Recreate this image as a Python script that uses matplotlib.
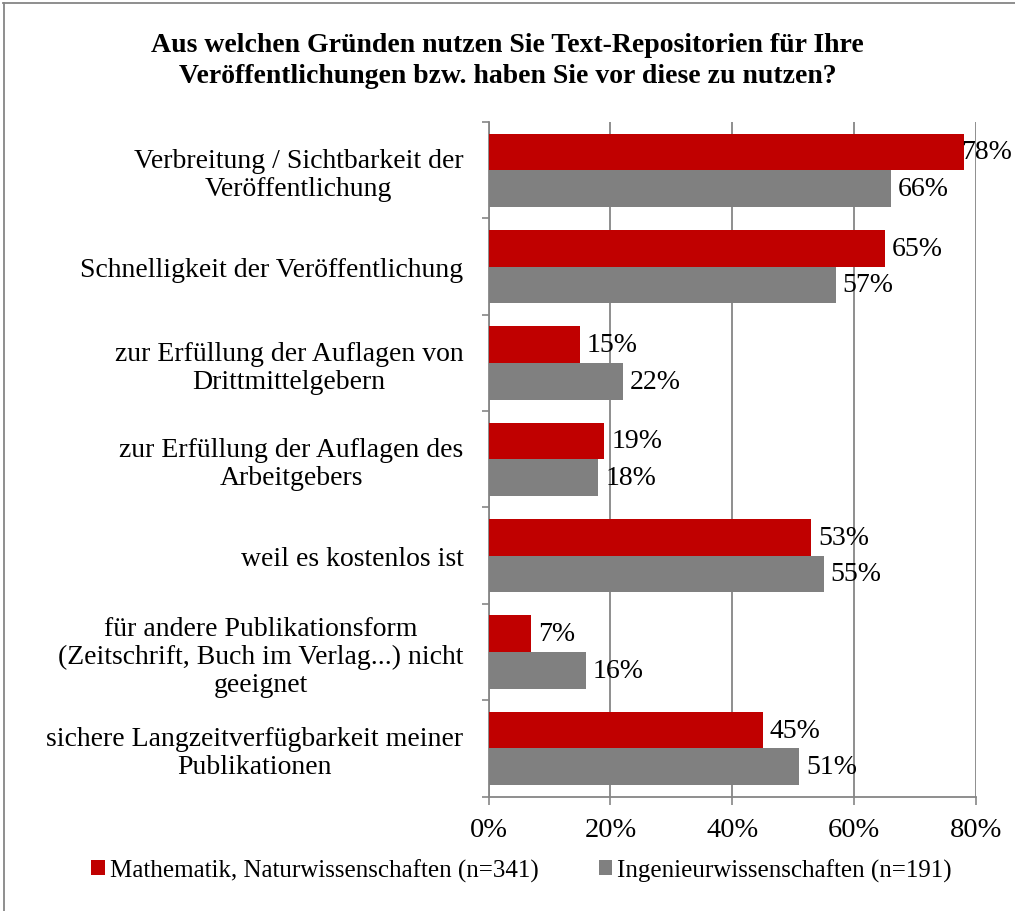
import matplotlib.pyplot as plt
import numpy as np
from matplotlib.lines import Line2D

plt.rcParams['font.family'] = ['Liberation Serif', 'DejaVu Serif']

categories = [
    'Verbreitung / Sichtbarkeit der\nVeröffentlichung',
    'Schnelligkeit der Veröffentlichung',
    'zur Erfüllung der Auflagen von\nDrittmittelgebern',
    'zur Erfüllung der Auflagen des\nArbeitgebers',
    'weil es kostenlos ist',
    'für andere Publikationsform\n(Zeitschrift, Buch im Verlag...) nicht\ngeeignet',
    'sichere Langzeitverfügbarkeit meiner\nPublikationen',
]
mathe = [78, 65, 15, 19, 53, 7, 45]
ingenieur = [66, 57, 22, 18, 55, 16, 51]
series_names = ['Mathematik, Naturwissenschaften (n=341)',
                'Ingenieurwissenschaften (n=191)']
xticks = [0, 20, 40, 60, 80]

red = '#C00000'
gray = '#808080'
gridc = '#868686'

fig = plt.figure(figsize=(10.15, 9.12), dpi=100)
ax = fig.add_axes([488.5 / 1015, 1 - 797.5 / 912, (976 - 488.5) / 1015, (797.5 - 123) / 912])

y = np.arange(len(categories))
h = 0.38
b1 = ax.barh(y - h / 2, mathe, height=h, color=red, label=series_names[0], zorder=3)
b2 = ax.barh(y + h / 2, ingenieur, height=h, color=gray, label=series_names[1], zorder=3)

labels = []
for bars, vals in ((b1, mathe), (b2, ingenieur)):
    for bar, v in zip(bars, vals):
        a = ax.annotate(f'{v}%', (v, bar.get_y() + bar.get_height() / 2),
                        xytext=(5, 0), textcoords='offset points',
                        va='center', ha='left', fontsize=20, zorder=4,
                        annotation_clip=False)
        labels.append(a)

ax.set_xlim(0, 80)
ax.set_ylim(len(categories) - 0.5, -0.5)
ax.set_xticks(xticks)
ax.set_xticklabels([f'{t}%' for t in xticks], fontsize=20.5)
ax.set_yticks(y)
ax.set_yticklabels(categories, fontsize=20, linespacing=1.15)
for lbl in ax.get_yticklabels():
    lbl.set_multialignment('center')
ax.set_yticks(np.arange(len(categories) + 1) - 0.5, minor=True)
ax.tick_params(axis='y', which='major', length=0, pad=18)
ax.tick_params(axis='y', which='minor', length=5, width=1.2, color=gridc, direction='out')
ax.tick_params(axis='x', length=6, width=1.2, color=gridc, direction='out', pad=9)

ax.grid(axis='x', color=gridc, linewidth=1.3, zorder=0)
for s in ('top', 'right'):
    ax.spines[s].set_visible(False)
for s in ('left', 'bottom'):
    ax.spines[s].set_color(gridc)
    ax.spines[s].set_linewidth(1.3)

fig.text(0.5, 1 - 61 / 912,
         'Aus welchen Gründen nutzen Sie Text-Repositorien für Ihre\n'
         'Veröffentlichungen bzw. haben Sie vor diese zu nutzen?',
         ha='center', va='center', fontsize=20, fontweight='bold', linespacing=1.3)

fig.legend(handles=[b1, b2], loc='center left', bbox_to_anchor=(91 / 1015, 1 - 871 / 912),
           ncol=2, frameon=False, fontsize=18, handlelength=0.55, handleheight=0.55,
           handletextpad=0.2, columnspacing=2.4, borderpad=0, borderaxespad=0)

fig.add_artist(Line2D([3 / 1015, 1], [1 - 3.5 / 912, 1 - 3.5 / 912],
                      transform=fig.transFigure, color=gridc, linewidth=1.3))
fig.add_artist(Line2D([3.5 / 1015, 3.5 / 1015], [0, 1 - 3.5 / 912],
                      transform=fig.transFigure, color=gridc, linewidth=1.3))

# keep labels inside the picture (78% sits at the right edge)
fig.canvas.draw()
r = fig.canvas.get_renderer()
for a in labels:
    ext = a.get_window_extent(r)
    over = ext.x1 - 1012
    if over > 0:
        dx, dy = a.xyann
        a.xyann = (dx - over * 72 / fig.dpi, dy)

fig.savefig('out.png', dpi=100)
